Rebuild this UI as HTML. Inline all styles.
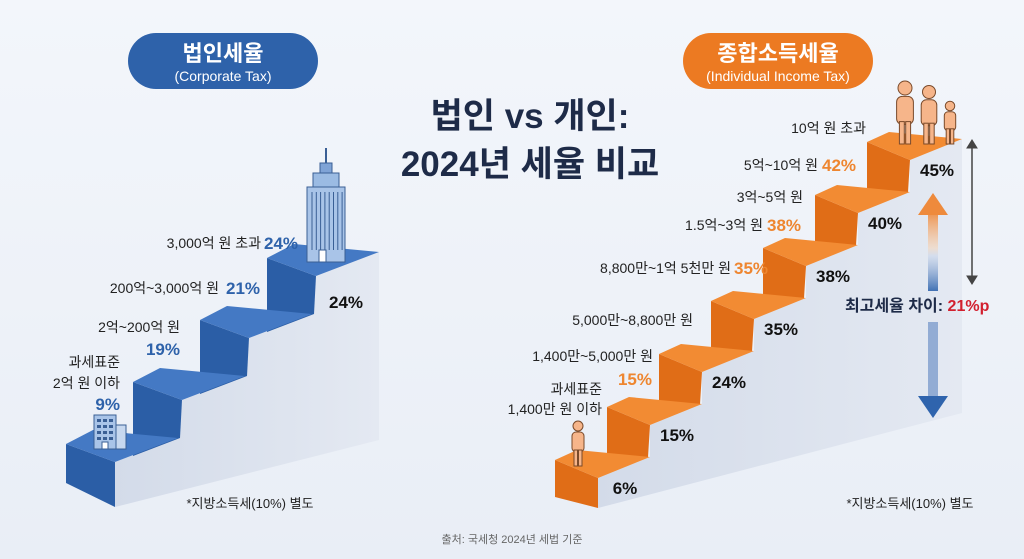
<!DOCTYPE html>
<html><head><meta charset="utf-8">
<style>
html,body{margin:0;padding:0;width:1024px;height:559px;overflow:hidden;background:#eef2f8;}
svg{display:block;font-family:"Liberation Sans","Noto Sans CJK KR",sans-serif;}
</style></head>
<body>
<svg id="chart" width="1024" height="559" viewBox="0 0 1024 559" xmlns="http://www.w3.org/2000/svg">
<defs>
<linearGradient id="bg" x1="0" y1="0" x2="0" y2="1"><stop offset="0" stop-color="#f3f6fb"/><stop offset="1" stop-color="#e9eef6"/></linearGradient>
<linearGradient id="wallL" x1="0" y1="0" x2="1" y2="0"><stop offset="0" stop-color="#d3dbe9"/><stop offset="1" stop-color="#e4e9f2"/></linearGradient>
<linearGradient id="gArrow" x1="0" y1="0" x2="0" y2="1"><stop offset="0" stop-color="#ee8a3c"/><stop offset="0.45" stop-color="#f6d3b4" stop-opacity="0.6"/><stop offset="0.55" stop-color="#c7d4ea" stop-opacity="0.6"/><stop offset="1" stop-color="#2f64ad"/></linearGradient>
</defs>
<rect width="1024" height="559" fill="url(#bg)"/>
<g id="left"></g>
<g id="right"></g>

<!-- header pills -->
<g>
<rect x="128" y="33" width="190" height="56" rx="28" fill="#2e62aa"/>
<text x="223" y="61" text-anchor="middle" font-size="22" font-weight="bold" fill="#fff">법인세율</text>
<text x="223" y="81" text-anchor="middle" font-size="14" fill="#fff">(Corporate Tax)</text>
</g>
<g>
<rect x="683" y="33" width="190" height="56" rx="28" fill="#ec7a22"/>
<text x="778" y="61" text-anchor="middle" font-size="22" font-weight="bold" fill="#fff">종합소득세율</text>
<text x="778" y="81" text-anchor="middle" font-size="14" fill="#fff">(Individual Income Tax)</text>
</g>
<text x="530" y="128" text-anchor="middle" font-size="35" font-weight="bold" fill="#1e2b48">법인 vs 개인:</text>
<text x="530" y="176" text-anchor="middle" font-size="35" font-weight="bold" fill="#1e2b48">2024년 세율 비교</text>

<!-- left labels -->
<g font-size="14" fill="#222">
<text x="261" y="248" text-anchor="end">3,000억 원 초과</text>
<text x="219" y="293" text-anchor="end">200억~3,000억 원</text>
<text x="180" y="332" text-anchor="end">2억~200억 원</text>
<text x="120" y="367" text-anchor="end">과세표준</text>
<text x="120" y="388" text-anchor="end">2억 원 이하</text>
</g>
<g font-size="17" font-weight="bold" fill="#2e62aa">
<text x="264" y="249">24%</text>
<text x="226" y="294">21%</text>
<text x="180" y="355" text-anchor="end">19%</text>
<text x="120" y="410" text-anchor="end">9%</text>
</g>
<text x="250" y="508" font-size="13" fill="#222" text-anchor="middle">*지방소득세(10%) 별도</text>

<!-- right labels -->
<g font-size="14" fill="#222">
<text x="866" y="133" text-anchor="end">10억 원 초과</text>
<text x="818" y="170" text-anchor="end">5억~10억 원</text>
<text x="803" y="202" text-anchor="end">3억~5억 원</text>
<text x="763" y="230" text-anchor="end">1.5억~3억 원</text>
<text x="731" y="273" text-anchor="end">8,800만~1억 5천만 원</text>
<text x="693" y="325" text-anchor="end">5,000만~8,800만 원</text>
<text x="653" y="361" text-anchor="end">1,400만~5,000만 원</text>
<text x="602" y="394" text-anchor="end">과세표준</text>
<text x="602" y="414" text-anchor="end">1,400만 원 이하</text>
</g>
<g font-size="17" font-weight="bold" fill="#ee8630">
<text x="822" y="171">42%</text>
<text x="767" y="231">38%</text>
<text x="734" y="274">35%</text>
<text x="652" y="385" text-anchor="end">15%</text>
</g>
<text x="910" y="508" font-size="13" fill="#222" text-anchor="middle">*지방소득세(10%) 별도</text>

<!-- arrows -->
<g stroke="#444" fill="#444">
<line x1="972" y1="146" x2="972" y2="278" stroke-width="1.5"/>
<polygon points="967,148 977,148 972,140"/>
<polygon points="967,276 977,276 972,284"/>
</g>
<g>
<rect x="928" y="213" width="10" height="78" fill="url(#gArrow)" opacity="0.9"/>
<polygon points="918,215 948,215 933,193" fill="#ee8a3c"/>
<rect x="928" y="322" width="10" height="76" fill="#6f93c8" opacity="0.7"/>
<polygon points="918,396 948,396 933,418" fill="#2f64ad"/>
</g>
<text x="845" y="311" font-size="16" font-weight="bold" fill="#1e2b48">최고세율 차이: <tspan fill="#d2202f">21%p</tspan></text>

<text x="512" y="543" text-anchor="middle" font-size="11" fill="#666">출처: 국세청 2024년 세법 기준</text>
</svg>
<script>
const corpRates = [9, 19, 21, 24];
const incomeRates = [6, 15, 24, 35, 38, 40, 45];
const corpWallLabels = ['24%'];
const NS = 'http://www.w3.org/2000/svg';
function mk(tag, attrs, parent){ const e=document.createElementNS(NS,tag); for(const k in attrs) e.setAttribute(k,attrs[k]); parent.appendChild(e); return e; }
function pts(a){ return a.map(p=>p[0]+','+p[1]).join(' '); }

function drawStairs(g, rates, cfg){
  const n = rates.length;
  const O = i => [cfg.x0 + cfg.dx*i, cfg.y0 + cfg.dy*i];
  const a = p=>[p[0],p[1]];
  const add=(o,d)=>[o[0]+d[0],o[1]+d[1]];
  // wall
  const w=[];
  w.push(add(O(0),[cfg.fr[0], cfg.fr[1]+cfg.h0b]));
  for(let i=0;i<n;i++){ w.push(add(O(i),cfg.fr)); w.push(add(O(i),cfg.rt)); }
  const last=add(O(n-1),cfg.rt);
  w.push([last[0], cfg.wallBottom]);
  const wall = mk('polygon',{points:pts(w),fill:cfg.wall},g);
  
  
  for(let i=n-1;i>=0;i--){
    const o=O(i);
    let riser;
    if(i===0) riser=[o, add(o,cfg.fr), add(o,[cfg.fr[0],cfg.fr[1]+cfg.h0b]), add(o,[0,cfg.h0])];
    else riser=[o, add(o,cfg.fr), add(o,[cfg.fr[0]-2, -cfg.dy+cfg.rt[1]]), add(o,[0,-cfg.dy+12])];
    const r=mk('polygon',{points:pts(riser),fill:cfg.riser},g);
    
    
    const top=[o, add(o,cfg.bl), add(o,cfg.rt), add(o,cfg.fr)];
    const t=mk('polygon',{points:pts(top),fill:cfg.top},g);
    
    
  }
  for(let i=0;i<n;i++){
    if(cfg.labelSkip && i<n-1) continue;
    const o=O(i);
    const tx=mk('text',{x:o[0]+cfg.lab[0],y:o[1]+cfg.lab[1],'font-size':17,'font-weight':'bold',fill:'#111','text-anchor':'middle'},g);
    
    
    tx.textContent=rates[i]+'%';
  }
}
drawStairs(document.getElementById('left'), corpRates, {
  x0:66,y0:444,dx:67,dy:-62,fr:[49,18],rt:[112,-6],bl:[27,-14],h0:39,h0b:45,
  wallBottom:440,top:'#4479c4',riser:'#2b5ea6',wall:'url(#wallL)',lab:[79,50],labelSkip:true
});
drawStairs(document.getElementById('right'), incomeRates, {
  x0:555,y0:460,dx:52,dy:-53,fr:[43,18],rt:[95,-3],bl:[22,-10],h0:37,h0b:30,
  wallBottom:413,top:'#f28b33',riser:'#e06d17',wall:'url(#wallL)',lab:[70,34],labelSkip:false
});

// icons
const svg=document.getElementById('chart');
function icon(html,name){ const g=mk('g',{},svg); g.innerHTML=html;   }
icon('<line x1="326" y1="148" x2="326" y2="165" stroke="#3a5f95" stroke-width="2"/><rect x="320" y="163" width="12" height="10" fill="#7fa3d6" stroke="#3a5f95"/><rect x="313" y="173" width="26" height="14" fill="#9bbbe3" stroke="#3a5f95"/><rect x="307" y="187" width="38" height="75" fill="#a9c4e8" stroke="#3a5f95"/>'
 +[0,1,2,3,4,5,6,7].map(k=>'<line x1="'+(312+k*4.3)+'" y1="192" x2="'+(312+k*4.3)+'" y2="250" stroke="#3a5f95" stroke-width="1"/>').join('')
 +'<rect x="319" y="250" width="7" height="12" fill="#fff" stroke="#3a5f95"/>','skyscraper-icon');
icon('<rect x="94" y="415" width="22" height="34" fill="#a9c4e8" stroke="#3a5f95"/><rect x="116" y="425" width="10" height="24" fill="#c7d8ef" stroke="#3a5f95"/>'
 +[0,1,2,3].map(r=>[0,1,2].map(c=>'<rect x="'+(97+c*6)+'" y="'+(419+r*6)+'" width="4" height="3" fill="#3a5f95"/>').join('')).join('')
 +'<rect x="102" y="442" width="6" height="7" fill="#fff" stroke="#3a5f95"/>','small-office-icon');
function person(x,y,s){ return '<circle cx="'+x+'" cy="'+y+'" r="'+(5*s)+'" fill="#f6b58a" stroke="#7a4a2a" stroke-width="1"/><rect x="'+(x-6*s)+'" y="'+(y+6*s)+'" width="'+(12*s)+'" height="'+(20*s)+'" rx="'+(4*s)+'" fill="#f6b58a" stroke="#7a4a2a" stroke-width="1"/><rect x="'+(x-4*s)+'" y="'+(y+24*s)+'" width="'+(3.5*s)+'" height="'+(16*s)+'" fill="#f6b58a" stroke="#7a4a2a" stroke-width="1"/><rect x="'+(x+0.5*s)+'" y="'+(y+24*s)+'" width="'+(3.5*s)+'" height="'+(16*s)+'" fill="#f6b58a" stroke="#7a4a2a" stroke-width="1"/>'; }
icon(person(578,426,1),'person-icon');
icon(person(905,88,1.4)+person(929,92,1.3)+person(950,106,0.95),'family-icon');
</script>
</body></html>
